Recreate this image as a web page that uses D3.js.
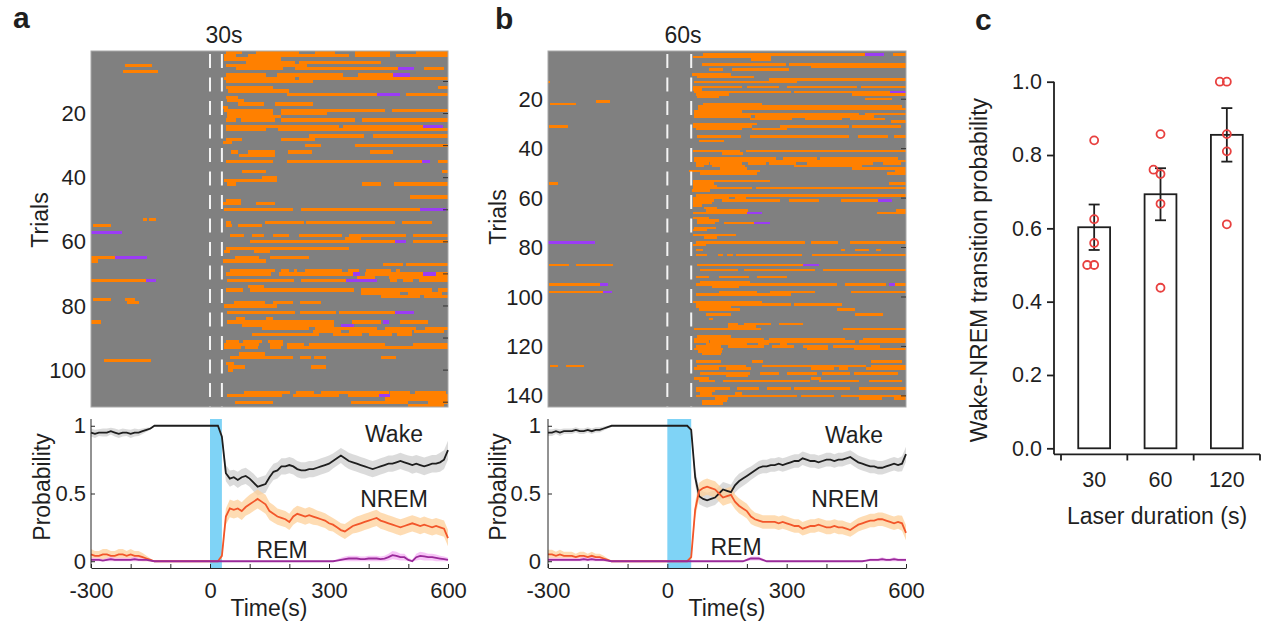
<!DOCTYPE html>
<html>
<head>
<meta charset="utf-8">
<script src="https://cdnjs.cloudflare.com/ajax/libs/d3/7.8.5/d3.min.js"></script>
<style>
  body { margin: 0; background: #fff; }
  svg { font-family: "Liberation Sans", Arial, Helvetica, sans-serif; }
</style>
</head>
<body>
<svg id="fig" width="1263" height="630"></svg>
<script>
// ---------- data ----------
// laser durations of panels a and b (s)
var laserA = 30, laserB = 60;
var nTrialsA = 111, nTrialsB = 144;

// raster rows: "trial: N<start>~<end> R<start>~<end> ..."  (N = NREM, R = REM, times in s)
var rasterA = [
  "1: N40~80 N115~225 N265~315 N365~455 N520~600",
  "2: N35~65 N95~350 N365~455 N470~600",
  "3: N35~180",
  "4: N90~215 N225~430",
  "5: N-215~-145 N40~245",
  "6: N65~185 N215~475 R475~515 N540~590",
  "7: N-220~-130",
  "8: N40~140 N170~335 N373~462 R462~505",
  "9: N35~215 N225~600",
  "10: N40~260",
  "12: N40~160 N575~600",
  "13: N45~200",
  "14: N195~420 R420~480 N495~600",
  "15: N40~70",
  "16: N42~85",
  "17: N70~135 N165~260",
  "18: N33~45",
  "19: N36~160 N180~440 N460~600",
  "20: N42~160 N180~295",
  "21: N42~180",
  "22: N40~65 N78~165 N180~365 N382~600",
  "24: N40~325 N335~538 R538~588",
  "25: N40~140 N172~600",
  "27: N250~388 N410~600",
  "28: N40~80 N180~265",
  "29: N33~55",
  "30: N240~280 N365~600",
  "32: N53~70 N95~165 N197~258 N404~462",
  "33: N73~165",
  "35: N40~160 N195~535 R535~555 N575~600",
  "38: N80~140 N585~600",
  "40: N132~168",
  "41: N36~170",
  "42: N42~65 N382~432 N465~600",
  "46: N505~600",
  "47: N40~78",
  "48: N33~78 N117~163",
  "50: N36~208 N229~530 R530~595",
  "53: N-170~-160 N-155~-135",
  "54: N40~52 N138~237 N242~467 N485~560",
  "55: N-295~-250 N40~55 N70~130",
  "57: R-300~-222",
  "58: N50~86 N105~136 N160~200 N224~332 N350~493 N512~600",
  "59: N340~380",
  "60: N100~466 R466~494 N512~600",
  "62: N40~350",
  "63: N36~50 N112~150",
  "65: N-300~-239 R-239~-160 N64~123 N150~250",
  "66: N-300~-283 N32~140",
  "67: N437~486 N495~600",
  "69: N50~165 N178~200 N211~220 N239~334 N348~376 N393~457 N468~480",
  "70: N40~153 N174~361 R361~378 N392~537 R537~571 N571~600",
  "71: N370~415 N452~600",
  "72: N-300~-161 R-161~-136 N44~211 N230~344 R344~420 N455~472 N487~512 N527~600",
  "74: N96~136",
  "75: N40~84 N100~363 N380~560 N575~600",
  "76: N380~480 N500~585",
  "77: N430~530 N540~600",
  "78: N-295~-250 N-215~-190",
  "79: N-210~-180 N61~138 N159~208 N226~281",
  "80: N36~170",
  "82: N44~215 N226~318 N325~466 R466~515",
  "84: N65~88 N140~160",
  "85: N-300~-275 N42~313 N357~432 R435~452 N480~550",
  "86: N80~313 R329~363",
  "87: N132~250 N264~422 N440~520 N541~600",
  "88: N260~330 N350~508 N515~590",
  "89: N105~274 N310~384 N402~460 N472~510",
  "91: N40~73 N82~132 N147~185",
  "92: N36~124 N151~184 N193~236 N250~440 N512~600",
  "93: N36~78 N88~122 N151~180 N193~600",
  "95: N74~138",
  "96: N50~208 N228~254 N263~292 N430~470",
  "97: N-267~-149",
  "98: N40~61",
  "99: N46~88 N254~292",
  "100: N46~58",
  "107: N86~201 N218~262 N280~450 N453~505 N516~595",
  "108: N42~182 N210~325 N347~425 R425~453 N453~600",
  "109: N440~600",
  "110: N63~159 N355~498 N550~600",
  "111: N500~590"
];

var rasterB = [
  "2: N90~498 R498~545 N568~600",
  "3: N65~260",
  "4: N210~260",
  "6: N86~299 N307~600",
  "7: N362~600",
  "8: N104~140 N163~306",
  "10: N62~159",
  "11: N75~219",
  "12: N255~600",
  "13: N-300~-295 N67~325",
  "15: N65~188 N200~280 N301~476 N487~600",
  "16: N65~88",
  "17: N67~310 N318~560 R560~600",
  "18: N71~155 N465~600",
  "19: N75~130",
  "20: N498~565",
  "21: N-180~-145",
  "22: N-295~-230 N90~237",
  "23: N78~590",
  "24: N78~600",
  "25: N67~188",
  "26: N67~481 N497~600",
  "27: N67~210 N220~520",
  "28: N207~314 N345~440 N458~548",
  "29: N563~600",
  "30: N65~226",
  "31: N-297~-250 N65~213 N284~456 N465~588",
  "32: N71~188 N213~300",
  "35: N75~186 N207~456 N479~555 N571~600",
  "37: N79~142",
  "41: N65~182 N199~600",
  "42: N138~190",
  "44: N67~272 N290~377 N383~580",
  "45: N67~600",
  "46: N71~104 N108~188 N203~247 N255~323 N352~516 N541~588",
  "47: N71~92 N113~195 N318~490",
  "48: N132~200 N465~600",
  "49: N54~234 N573~600",
  "50: N83~226 N553~600",
  "53: N65~258",
  "54: N-297~-276 N65~117 N557~600",
  "55: N65~125",
  "56: N65~212 N224~600",
  "57: N62~107",
  "59: N71~600",
  "60: N65~155 N171~199",
  "61: N65~117 N138~284 N307~381 N437~530 R530~565",
  "62: N65~113",
  "63: N65~88",
  "64: N92~125",
  "65: N96~203 N576~600",
  "66: N65~200 R200~238 N527~600",
  "68: N65~104",
  "69: N75~131",
  "70: N75~121 N142~217 R217~257",
  "72: N68~123",
  "73: N65~100",
  "75: N65~173",
  "76: N92~125",
  "78: R-300~-182 N71~345 N362~428 N460~600",
  "79: N65~96",
  "81: N71~89 N437~446 N471~506 N525~538",
  "83: N73~100 N128~140 N150~165 N173~339 N363~600",
  "87: N-297~-248 N-230~-137 N75~342 R342~381",
  "89: N82~177 N192~371 N392~600",
  "92: N73~104 N131~205 N226~301",
  "94: N81~207",
  "95: N-297~-169 R-169~-150 N71~427 N446~550 R558~573 N573~600",
  "96: N113~180",
  "98: N-297~-161 R-161~-138 N130~226 N258~370 N462~600",
  "99: N71~310",
  "102: N65~238",
  "103: N71~310 N318~440",
  "104: N71~160",
  "105: N79~182 N426~471",
  "107: N96~160 N472~541",
  "109: N104~115",
  "111: N153~177 N192~261 N280~340",
  "112: N153~222",
  "113: N67~236 N442~600",
  "116: N75~159",
  "117: N67~243 N255~446 N492~600",
  "118: N67~104 N107~471 N483~600",
  "119: N96~200 N227~255 N283~300",
  "120: N71~136 N153~243 N262~318 N341~403 N417~535",
  "121: N68~140 N352~403 N469~600",
  "122: N78~138",
  "123: N86~136",
  "126: N71~135 N212~241 N511~590",
  "128: N-295~-275 N-255~-209 N75~198 N238~500 N511~600",
  "129: N67~129 N148~210 N362~418 N431~454 N500~600",
  "131: N82~207 N232~280 N301~377 N389~460 N470~580",
  "132: N148~203",
  "133: N68~104 N362~387",
  "134: N79~119 N140~358 N381~481 N506~590",
  "137: N71~157 N175~230 N251~310 N318~460 N482~600",
  "138: N71~121",
  "139: N82~113 N170~187",
  "140: N71~325 N335~418 N437~600",
  "141: N119~153 N482~540 N569~600",
  "142: N88~150",
  "143: N88~140"
];

// time points of the probability curves (s)
var timeGrid = [-300,-290,-280,-270,-260,-250,-240,-230,-220,-210,-200,-190,-180,-170,-160,-150,
  -140,-130,-120,-110,-100,-90,-80,-70,-60,-50,-40,-30,-20,-10,0,10,20,30,40,50,60,70,80,90,100,
  110,120,130,140,150,160,170,180,190,200,210,220,230,240,250,260,270,280,290,300,
  310,320,330,340,350,360,370,380,390,400,410,420,430,440,450,460,470,480,490,500,
  510,520,530,540,550,560,570,580,590,600];

// panel a (30 s laser)
var wakeA = [0.95,0.94,0.95,0.95,0.95,0.96,0.95,0.94,0.95,0.95,0.94,0.95,0.95,0.96,0.97,0.98,
  1,1,1,1,1,1,1,1,1,1,1,1,1,1,1,1,1,
  0.92,0.65,0.61,0.62,0.60,0.62,0.63,0.61,
  0.58,0.55,0.56,0.57,0.62,0.66,0.67,0.70,0.70,0.71,
  0.70,0.68,0.67,0.67,0.68,0.68,0.69,0.70,0.71,0.72,
  0.74,0.76,0.78,0.76,0.74,0.73,0.72,0.71,0.70,0.69,
  0.68,0.69,0.70,0.71,0.72,0.72,0.73,0.74,0.73,0.72,
  0.71,0.72,0.71,0.70,0.71,0.72,0.72,0.73,0.75,0.82];
var nremA = [0.05,0.04,0.04,0.05,0.05,0.04,0.04,0.05,0.05,0.04,0.05,0.04,0.04,0.03,0.02,0.01,
  0,0,0,0,0,0,0,0,0,0,0,0,0,0,0,0,0,
  0.04,0.33,0.39,0.38,0.39,0.37,0.40,0.42,
  0.44,0.46,0.44,0.42,0.37,0.35,0.33,0.32,0.31,0.29,
  0.33,0.35,0.34,0.33,0.34,0.33,0.32,0.31,0.30,0.28,
  0.27,0.25,0.23,0.22,0.24,0.26,0.27,0.28,0.29,0.30,
  0.31,0.32,0.30,0.29,0.28,0.27,0.26,0.25,0.26,0.27,
  0.28,0.27,0.26,0.27,0.26,0.25,0.26,0.25,0.24,0.17];
var remA = [0.01,0.01,0.01,0.005,0.01,0.015,0.01,0.01,0.01,0.01,0.01,0.015,0.01,0.01,0.01,0.005,
  0,0,0,0,0,0,0,0,0,0,
  0,0,0,0,0,0,0,0,0,0,
  0,0,0,0,0,0,0,0,0,0,
  0,0,0,0,0,0,0,0,0,0,
  0,0,0,0,0,0,
  0.005,0.01,0.015,0.02,0.02,0.02,0.015,0.015,0.02,0.02,
  0.02,0.015,0.02,0.03,0.045,0.04,0.03,0.03,0.01,0,
  0.03,0.04,0.035,0.03,0.03,0.025,0.02,0.015,0.01];
var semWakeA = [0.03,0.03,0.025,0.03,0.03,0.025,0.03,0.03,0.03,0.025,0.03,0.03,0.025,0.02,0.015,0.01,
  0,0,0,0,0,0,0,0,0,0,0,0,0,0,0,0,0,
  0.03,0.06,0.06,0.055,0.06,0.06,0.06,0.06,
  0.065,0.065,0.065,0.065,0.06,0.06,0.06,0.06,0.06,0.06,
  0.06,0.06,0.06,0.06,0.06,0.06,0.06,0.06,0.06,0.06,
  0.055,0.055,0.055,0.06,0.06,0.06,0.06,0.06,0.06,0.06,
  0.06,0.06,0.06,0.06,0.06,0.06,0.06,0.06,0.06,0.06,
  0.065,0.065,0.065,0.065,0.065,0.065,0.065,0.07,0.07,0.07];
var semNremA = [0.04,0.035,0.035,0.04,0.04,0.035,0.035,0.04,0.04,0.035,0.04,0.035,0.035,0.03,0.02,0.01,
  0,0,0,0,0,0,0,0,0,0,0,0,0,0,0,0,0,
  0.02,0.06,0.065,0.065,0.065,0.065,0.065,0.07,
  0.07,0.07,0.07,0.07,0.065,0.065,0.06,0.06,0.06,0.06,
  0.06,0.06,0.06,0.06,0.06,0.06,0.055,0.055,0.055,0.055,
  0.05,0.05,0.05,0.055,0.055,0.055,0.06,0.06,0.06,0.06,
  0.06,0.06,0.06,0.06,0.06,0.06,0.06,0.06,0.06,0.06,
  0.06,0.06,0.06,0.06,0.06,0.06,0.06,0.06,0.06,0.06];
var semRemA = [0.015,0.015,0.015,0.01,0.015,0.02,0.015,0.015,0.015,0.015,0.015,0.02,0.015,0.015,0.015,0.01,
  0,0,0,0,0,0,0,0,0,0,
  0,0,0,0,0,0,0,0,0,0,
  0,0,0,0,0,0,0,0,0,0,
  0,0,0,0,0,0,0,0,0,0,
  0,0,0,0,0,0,
  0.01,0.015,0.02,0.02,0.02,0.02,0.02,0.02,0.02,0.02,
  0.02,0.02,0.02,0.025,0.03,0.03,0.025,0.025,0.015,0.01,
  0.025,0.03,0.03,0.025,0.025,0.025,0.02,0.02,0.015];

// panel b (60 s laser)
var wakeB = [0.95,0.95,0.96,0.95,0.96,0.96,0.96,0.97,0.96,0.96,0.97,0.96,0.97,0.97,0.98,0.99,
  1,1,1,1,1,1,1,1,1,1,1,1,1,1,1,1,1,1,1,1,
  0.97,0.62,0.48,0.46,0.45,
  0.46,0.47,0.50,0.53,0.52,0.51,0.56,0.59,0.61,0.63,
  0.65,0.67,0.69,0.70,0.70,0.71,0.71,0.72,0.71,0.72,
  0.73,0.74,0.74,0.76,0.75,0.74,0.74,0.73,0.74,0.75,
  0.75,0.74,0.75,0.75,0.76,0.77,0.75,0.73,0.72,0.71,
  0.70,0.70,0.69,0.69,0.70,0.71,0.72,0.71,0.72,0.79];
var nremB = [0.05,0.05,0.04,0.05,0.04,0.04,0.04,0.03,0.04,0.04,0.03,0.04,0.03,0.03,0.02,0.01,
  0,0,0,0,0,0,0,0,0,0,0,0,0,0,0,0,0,0,0,0,
  0.03,0.38,0.52,0.54,0.55,
  0.54,0.53,0.50,0.47,0.48,0.49,0.44,0.41,0.39,0.37,
  0.33,0.31,0.30,0.29,0.29,0.29,0.29,0.28,0.29,0.28,
  0.27,0.26,0.26,0.24,0.25,0.26,0.26,0.27,0.26,0.25,
  0.25,0.26,0.25,0.25,0.24,0.23,0.25,0.27,0.28,0.29,
  0.30,0.30,0.31,0.31,0.30,0.29,0.28,0.29,0.28,0.21];
var remB = [0.01,0.01,0.01,0.01,0.01,0.01,0.01,0.01,0.01,0.015,0.01,0.015,0.01,0.01,0.01,0.005,
  0,0,0,0,0,0,0,0,0,0,
  0,0,0,0,0,0,0,0,0,0,
  0,0,0,0,0,0,0,0,0,0,
  0,0,0,0,
  0.01,0.02,0.02,0.02,0.01,0,
  0,0,0,0,0,0,0,0,0,0,
  0,0,0,0,0,0,0,0,0,0,
  0,0,0,0,
  0.005,0.01,0.01,0.01,0.015,0.01,0.01,0.015,0.01,0.01,0.01];
var semWakeB = [0.025,0.025,0.02,0.025,0.02,0.02,0.02,0.02,0.02,0.02,0.02,0.02,0.02,0.02,0.015,0.01,
  0,0,0,0,0,0,0,0,0,0,0,0,0,0,0,0,0,0,0,0,
  0.02,0.06,0.06,0.055,0.055,
  0.055,0.055,0.055,0.055,0.055,0.055,0.055,0.055,0.055,0.055,
  0.05,0.05,0.05,0.05,0.05,0.05,0.05,0.05,0.05,0.05,
  0.05,0.05,0.05,0.05,0.05,0.05,0.05,0.05,0.05,0.05,
  0.05,0.05,0.05,0.05,0.05,0.05,0.05,0.05,0.05,0.05,
  0.05,0.05,0.05,0.05,0.05,0.05,0.05,0.05,0.055,0.055];
var semNremB = [0.035,0.035,0.03,0.035,0.03,0.03,0.03,0.025,0.03,0.03,0.025,0.03,0.025,0.025,0.02,0.01,
  0,0,0,0,0,0,0,0,0,0,0,0,0,0,0,0,0,0,0,0,
  0.02,0.06,0.06,0.06,0.06,
  0.06,0.06,0.06,0.06,0.06,0.06,0.055,0.055,0.055,0.055,
  0.055,0.05,0.05,0.05,0.05,0.05,0.05,0.05,0.05,0.05,
  0.05,0.05,0.05,0.05,0.05,0.05,0.05,0.05,0.05,0.05,
  0.05,0.05,0.05,0.05,0.05,0.05,0.05,0.05,0.05,0.05,
  0.05,0.05,0.05,0.05,0.05,0.05,0.05,0.05,0.055,0.055];
var semRemB = [0.015,0.015,0.015,0.015,0.015,0.015,0.015,0.015,0.015,0.02,0.015,0.02,0.015,0.015,0.015,0.01,
  0,0,0,0,0,0,0,0,0,0,
  0,0,0,0,0,0,0,0,0,0,
  0,0,0,0,0,0,0,0,0,0,
  0,0,0,0,
  0.01,0.015,0.015,0.015,0.01,0,
  0,0,0,0,0,0,0,0,0,0,
  0,0,0,0,0,0,0,0,0,0,
  0,0,0,0,
  0.005,0.01,0.01,0.01,0.015,0.01,0.01,0.015,0.01,0.01,0.01];

// panel c
var durations = ["30", "60", "120"];
var meanC = [0.603, 0.693, 0.855];
var semC = [0.062, 0.071, 0.073];
var pointsC = [[0.84, 0.625, 0.56, 0.5, 0.5], [0.857, 0.748, 0.76, 0.667, 0.438], [1, 1, 0.857, 0.81, 0.611]];

// ---------- drawing ----------
var svg = d3.select("#fig");
var ink = "#1f1f1f";
var orange = "#ff8000", purple = "#9b3cf5";

function parseRaster(rows) {
  var segs = [];
  rows.forEach(function (row) {
    var i = row.indexOf(":");
    var trial = +row.slice(0, i);
    row.slice(i + 1).trim().split(/\s+/).forEach(function (tok) {
      var m = tok.match(/^([NR])(-?\d+)~(-?\d+)$/);
      segs.push({ trial: trial, state: m[1], t0: +m[2], t1: +m[3] });
    });
  });
  return segs;
}

function label(txt, x, y, size, opts) {
  opts = opts || {};
  var t = svg.append("text").attr("x", x).attr("y", y)
    .attr("font-size", size).attr("fill", ink)
    .attr("text-anchor", opts.anchor || "middle")
    .text(txt);
  if (opts.bold) t.attr("font-weight", "bold");
  if (opts.rotate) t.attr("transform", "rotate(-90," + x + "," + y + ")").attr("dy", "0.35em");
  return t;
}

function drawRaster(p) {
  var g = svg.append("g");
  var x0 = p.x.range()[0], x1 = p.x.range()[1];
  var y0 = p.y.range()[0], y1 = p.y.range()[1];

  g.append("rect").attr("x", x0).attr("y", y0)
    .attr("width", x1 - x0).attr("height", y1 - y0).attr("fill", "#808080");

  g.selectAll("rect.seg").data(p.segs).enter().append("rect")
    .attr("class", "seg")
    .attr("x", function (d) { return p.x(d.t0); })
    .attr("width", function (d) { return p.x(d.t1) - p.x(d.t0); })
    .attr("y", function (d) { return p.y(d.trial - 0.5); })
    .attr("height", function (d) { return p.y(d.trial + 0.5) - p.y(d.trial - 0.5); })
    .attr("fill", function (d) { return d.state == "N" ? orange : purple; })
    .attr("shape-rendering", "crispEdges");

  // laser on / off
  g.selectAll("line.laser").data([0, p.laser]).enter().append("line")
    .attr("x1", function (d) { return p.x(d); })
    .attr("x2", function (d) { return p.x(d); })
    .attr("y1", y0 + 3).attr("y2", y1)
    .attr("stroke", "#f4f4f4").attr("stroke-width", 2)
    .attr("stroke-dasharray", "14,9.5");

  g.append("rect").attr("x", x0).attr("y", y0)
    .attr("width", x1 - x0).attr("height", y1 - y0)
    .attr("fill", "none").attr("stroke", "#a8a8a8").attr("stroke-width", 1);

  // right side ticks
  g.selectAll("line.rt").data(p.rightTicks).enter().append("line")
    .attr("x1", x1 - 5).attr("x2", x1)
    .attr("y1", function (d) { return p.y(d); })
    .attr("y2", function (d) { return p.y(d); })
    .attr("stroke", "#333").attr("stroke-width", 1);

  var ax = g.append("g").attr("transform", "translate(" + x0 + ",0)")
    .call(d3.axisLeft(p.y).tickValues(p.yTicks).tickSize(0).tickPadding(p.pad));
  ax.select(".domain").remove();
  ax.selectAll("text").attr("font-size", 22).attr("fill", ink)
    .attr("font-family", "Liberation Sans, Arial, sans-serif");
}

function drawProb(p) {
  var g = svg.append("g");
  var yP = p.y;

  g.append("rect")
    .attr("x", p.x(0)).attr("width", p.x(p.laser) - p.x(0))
    .attr("y", yP(1.05)).attr("height", yP(-0.05) - yP(1.05))
    .attr("fill", "#7fd3f6");

  var series = [
    { v: p.wake, s: p.semWake, line: "#1e1e1e", band: "#cfcfcf" },
    { v: p.nrem, s: p.semNrem, line: "#f2562a", band: "#fdd09a" },
    { v: p.rem, s: p.semRem, line: "#9a2a9a", band: "#f4b0f4" }
  ];

  var area = d3.area()
    .x(function (d) { return p.x(d.t); })
    .y0(function (d) { return yP(Math.max(0, d.v - d.s)); })
    .y1(function (d) { return yP(Math.min(1, d.v + d.s)); });
  var line = d3.line()
    .x(function (d) { return p.x(d.t); })
    .y(function (d) { return yP(d.v); });

  series.forEach(function (ser) {
    ser.pts = timeGrid.map(function (t, i) { return { t: t, v: ser.v[i], s: ser.s[i] }; });
    g.append("path").datum(ser.pts).attr("d", area)
      .attr("fill", ser.band).attr("fill-opacity", 0.75);
  });
  series.forEach(function (ser) {
    g.append("path").datum(ser.pts).attr("d", line)
      .attr("fill", "none").attr("stroke", ser.line).attr("stroke-width", 1.8);
  });

  var bx = g.append("g").attr("transform", "translate(0," + yP(-0.05) + ")")
    .call(d3.axisBottom(p.x)
      .tickValues([-300, -200, -100, 0, 100, 200, 300, 400, 500, 600])
      .tickFormat(function (d) { return d % 300 == 0 ? d : ""; })
      .tickSizeInner(-4).tickSizeOuter(0).tickPadding(14));
  var lx = g.append("g").attr("transform", "translate(" + p.x.range()[0] + ",0)")
    .call(d3.axisLeft(yP).tickValues([0, 0.5, 1]).tickFormat(d3.format("~g"))
      .tickSizeInner(-4).tickSizeOuter(0).tickPadding(p.pad));
  [bx, lx].forEach(function (a) {
    a.selectAll("path, line").attr("stroke", "#262626");
    a.selectAll("text").attr("font-size", 22).attr("fill", ink)
      .attr("font-family", "Liberation Sans, Arial, sans-serif");
  });
  lx.select(".domain").attr("d", "M0," + yP(-0.05) + "V" + yP(1.05));
}

// panel a
var xA = d3.scaleLinear().domain([-300, 600]).range([91, 448]);
var yRA = d3.scaleLinear().domain([0.5, nTrialsA + 0.5]).range([51, 407]);
var xB = d3.scaleLinear().domain([-300, 600]).range([548, 906]);
var yRB = d3.scaleLinear().domain([0.5, nTrialsB + 0.5]).range([51, 407]);
var yPA = d3.scaleLinear().domain([-0.05, 1.05]).range([568, 419]);

drawRaster({ x: xA, y: yRA, segs: parseRaster(rasterA), laser: laserA,
  yTicks: [20, 40, 60, 80, 100], rightTicks: d3.range(10, nTrialsA, 10), pad: 5 });
drawRaster({ x: xB, y: yRB, segs: parseRaster(rasterB), laser: laserB,
  yTicks: [20, 40, 60, 80, 100, 120, 140], rightTicks: d3.range(20, nTrialsB, 20), pad: 5 });

drawProb({ x: xA, y: yPA, laser: laserA, wake: wakeA, nrem: nremA, rem: remA,
  semWake: semWakeA, semNrem: semNremA, semRem: semRemA, pad: 5 });
drawProb({ x: xB, y: yPA, laser: laserB, wake: wakeB, nrem: nremB, rem: remB,
  semWake: semWakeB, semNrem: semNremB, semRem: semRemB, pad: 7 });

// texts of panels a and b
label("a", 13, 28, 30, { anchor: "start", bold: true });
label("b", 495, 29, 30, { anchor: "start", bold: true });
label("30s", 224, 43, 23);
label("60s", 683, 43, 23);
label("Trials", 40, 220, 23, { rotate: true });
label("Trials", 498, 217, 23, { rotate: true });
label("Probability", 42, 487, 23, { rotate: true });
label("Probability", 498, 487, 23, { rotate: true });
label("Time(s)", 269, 616, 23);
label("Time(s)", 727, 616, 23);
label("Wake", 394, 442, 23);
label("NREM", 394, 507, 23);
label("REM", 282, 558, 23);
label("Wake", 854, 443, 23);
label("NREM", 845, 507, 23);
label("REM", 736, 555, 23);

// panel c
label("c", 975, 30, 30, { anchor: "start", bold: true });
var xC = d3.scaleBand().domain(durations).range([1061, 1260]).paddingInner(0.52).paddingOuter(0.26);
var yC = d3.scaleLinear().domain([0, 1]).range([448.3, 81.7]);
var gc = svg.append("g");
var barData = durations.map(function (d, i) { return { key: d, m: meanC[i], s: semC[i], pts: pointsC[i] }; });

gc.selectAll("rect.bar").data(barData).enter().append("rect")
  .attr("x", function (d) { return xC(d.key); })
  .attr("width", xC.bandwidth())
  .attr("y", function (d) { return yC(d.m); })
  .attr("height", function (d) { return yC(0) - yC(d.m); })
  .attr("fill", "#fff").attr("stroke", ink).attr("stroke-width", 1.8);

barData.forEach(function (d) {
  var cx = xC(d.key) + xC.bandwidth() / 2;
  gc.append("line").attr("x1", cx).attr("x2", cx)
    .attr("y1", yC(d.m - d.s)).attr("y2", yC(d.m + d.s))
    .attr("stroke", ink).attr("stroke-width", 1.8);
  [d.m - d.s, d.m + d.s].forEach(function (v) {
    gc.append("line").attr("x1", cx - 5.5).attr("x2", cx + 5.5)
      .attr("y1", yC(v)).attr("y2", yC(v))
      .attr("stroke", ink).attr("stroke-width", 1.8);
  });
  // overlapping values are nudged left
  d.pts.forEach(function (v, i) {
    var near = d.pts.slice(0, i).some(function (u) { return Math.abs(u - v) < 0.02; });
    gc.append("circle").attr("cx", cx - (near ? 7 : 0)).attr("cy", yC(v)).attr("r", 4)
      .attr("fill", "none").attr("stroke", "#e8403f").attr("stroke-width", 1.8);
  });
});

var yAx = gc.append("g").attr("transform", "translate(1054,0)")
  .call(d3.axisLeft(yC).tickValues([0, 0.2, 0.4, 0.6, 0.8, 1.0]).tickFormat(d3.format(".1f"))
    .tickSize(7).tickPadding(5));
yAx.select(".domain").attr("d", "M0," + yC(1) + "V454.3");
yAx.selectAll("path, line").attr("stroke", ink).attr("stroke-width", 1.8);
yAx.selectAll("text").attr("font-size", 21.5).attr("fill", ink)
  .attr("font-family", "Liberation Sans, Arial, sans-serif");

gc.append("line").attr("x1", 1054).attr("x2", 1260).attr("y1", 454.3).attr("y2", 454.3)
  .attr("stroke", ink).attr("stroke-width", 1.8);
gc.selectAll("line.xt").data([0, 1, 2, 3]).enter().append("line")
  .attr("x1", function (i) { return xC.range()[0] + i * xC.step(); })
  .attr("x2", function (i) { return xC.range()[0] + i * xC.step(); })
  .attr("y1", 454.3).attr("y2", 460.5)
  .attr("stroke", ink).attr("stroke-width", 1.8);
durations.forEach(function (d) {
  label(d, xC(d) + xC.bandwidth() / 2, 487, 21.5);
});
label("Laser duration (s)", 1157, 524, 23);
label("Wake-NREM transition probability", 979, 270, 23, { rotate: true });
</script>
</body>
</html>
